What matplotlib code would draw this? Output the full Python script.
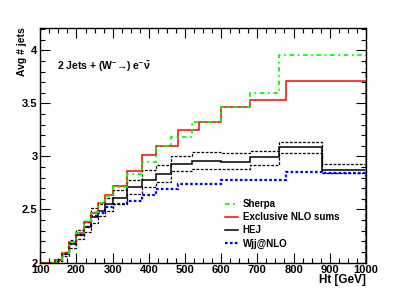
import numpy as np
import matplotlib
matplotlib.use("Agg")
import matplotlib.pyplot as plt

plt.rcParams['font.family'] = ['Liberation Sans', 'DejaVu Sans']
plt.rcParams['font.weight'] = 'bold'
plt.rcParams['mathtext.fontset'] = 'custom'
plt.rcParams['mathtext.rm'] = 'Liberation Sans:bold'
plt.rcParams['mathtext.it'] = 'Liberation Sans:bold'

# bin edges (two binnings used in the plot)
edges_a = [100, 120, 140, 160, 180, 200, 220, 240, 260, 280, 300, 340, 380, 420,
           480, 540, 600, 680, 780, 880, 1000]
edges_b = [100, 120, 140, 160, 180, 200, 220, 240, 260, 280, 300, 340, 380, 420,
           460, 520, 600, 680, 760, 880, 1000]

# Exclusive NLO sums (edges_a)
nlo = [2.00, 2.00, 2.02, 2.09, 2.19, 2.28, 2.38, 2.47, 2.56, 2.64, 2.72, 2.86, 3.01,
       3.10, 3.25, 3.32, 3.47, 3.53, 3.71, 3.71]
# Wjj@NLO (edges_a)
wjj = [2.00, 2.00, 2.01, 2.08, 2.17, 2.26, 2.33, 2.44, 2.47, 2.52, 2.55, 2.58, 2.64,
       2.69, 2.74, 2.74, 2.78, 2.78, 2.85, 2.84]
# Sherpa (edges_b)
sherpa = [2.00, 2.00, 2.02, 2.09, 2.19, 2.28, 2.39, 2.48, 2.56, 2.63, 2.71, 2.83, 2.95,
          3.10, 3.18, 3.32, 3.47, 3.60, 3.96, 3.96]
# HEJ central and scale band (edges_b)
hej = [2.00, 2.00, 2.02, 2.08, 2.17, 2.26, 2.33, 2.43, 2.49, 2.55, 2.61, 2.71, 2.78,
       2.83, 2.93, 2.96, 2.95, 2.99, 3.09, 2.87]
hej_up = [2.00, 2.00, 2.03, 2.10, 2.21, 2.31, 2.38, 2.51, 2.55, 2.61, 2.68, 2.78, 2.87,
          2.92, 3.00, 3.04, 3.03, 3.05, 3.14, 2.93]
hej_dn = [2.00, 2.00, 2.01, 2.06, 2.14, 2.22, 2.29, 2.37, 2.44, 2.49, 2.55, 2.65, 2.71,
          2.76, 2.86, 2.88, 2.88, 2.92, 3.03, 2.84]

fig = plt.figure(figsize=(4.07, 2.92), dpi=100)
ax = fig.add_axes([0.099, 0.101, 0.800, 0.803])

ax.stairs(wjj, edges_a, color='#0000ff', lw=1.6, ls=(0, (1.2, 1.0)), label='Wjj@NLO')
ax.stairs(hej_up, edges_b, color='black', lw=0.9, ls=(0, (2.2, 1.3)))
ax.stairs(hej_dn, edges_b, color='black', lw=0.9, ls=(0, (2.2, 1.3)))
ax.stairs(hej, edges_b, color='black', lw=1.1, label='HEJ')
ax.stairs(nlo, edges_a, color='#ff0000', lw=1.1, label='Exclusive NLO sums')
ax.stairs(sherpa, edges_b, color='#00ff00', lw=1.3, ls=(0, (2.5, 2, 1, 2)), label='Sherpa')

ax.set_xlim(100, 1000)
ax.set_ylim(2, 4.21)
ax.set_xticks(np.arange(100, 1001, 100))
ax.set_xticks(np.arange(100, 1001, 25), minor=True)
ax.set_yticks([2, 2.5, 3, 3.5, 4])
ax.set_yticklabels(['2', '2.5', '3', '3.5', '4'])
ax.set_yticks(np.arange(2, 4.21, 0.1), minor=True)
ax.tick_params(which='both', direction='in', top=True, right=True,
               labelsize=8, width=0.8)
ax.tick_params(axis='x', pad=1.5)
ax.tick_params(axis='y', pad=2)
ax.tick_params(which='major', length=7)
ax.tick_params(which='minor', length=3.5)
for s in ax.spines.values():
    s.set_linewidth(1.0)

fig.text(0.055, 0.905, 'Avg # jets', rotation=90, ha='center', va='top', fontsize=7.5)
fig.text(0.899, 0.02, 'Ht [GeV]', ha='right', va='bottom', fontsize=8.5)
ax.text(0.05, 0.834, r'2 Jets + (W$^{-}$→) e$^{-}\bar{\nu}$',
        transform=ax.transAxes, fontsize=7.5, va='center')

h, l = ax.get_legend_handles_labels()
order = [3, 2, 1, 0]
ax.legend([h[i] for i in order], [l[i] for i in order], frameon=False, fontsize=7,
          loc='upper left', bbox_to_anchor=(0.554, 0.287), handlelength=1.35,
          handletextpad=0.5, labelspacing=0.32, borderaxespad=0)

fig.savefig('out.png', dpi=100)
